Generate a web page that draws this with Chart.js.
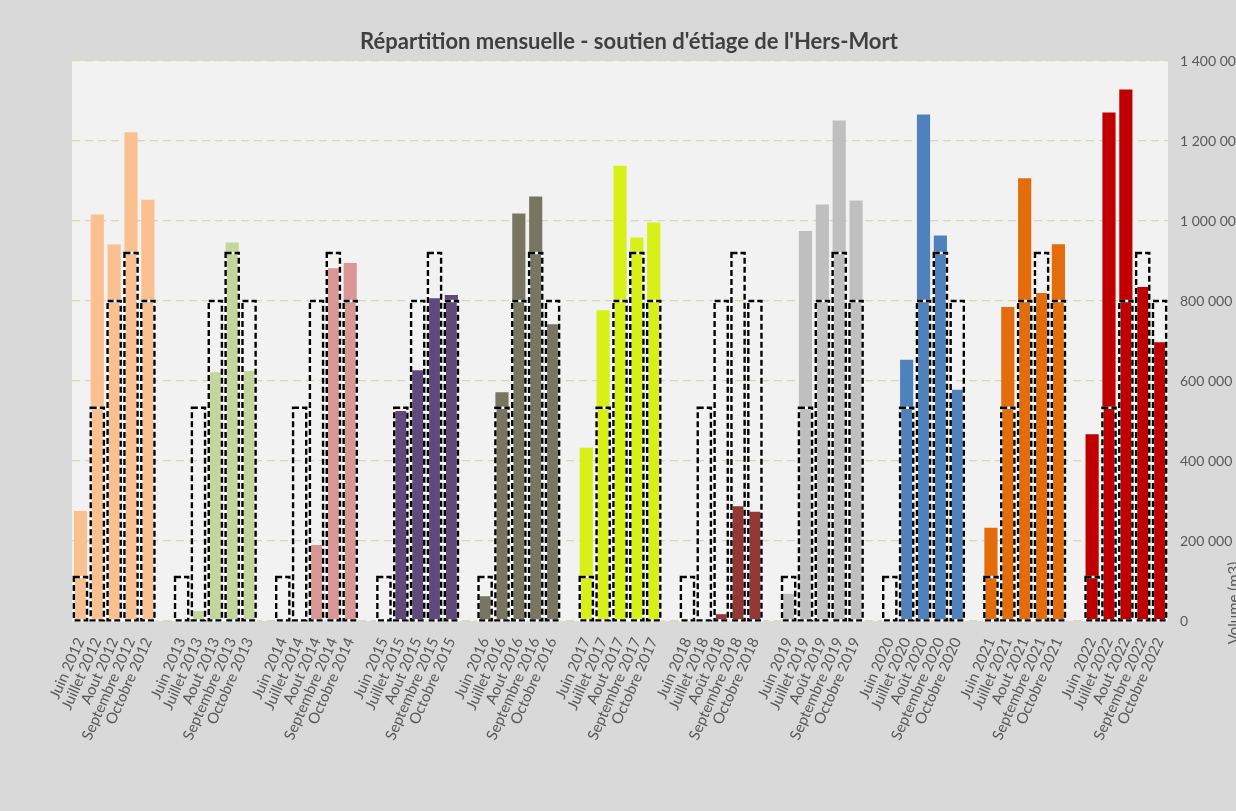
<!DOCTYPE html>
<html lang="fr">
<head>
<meta charset="UTF-8">
<title>Répartition mensuelle - soutien d'étiage de l'Hers-Mort</title>
<script src="https://cdn.jsdelivr.net/npm/chart.js"></script>
<style>
  html, body { margin: 0; padding: 0; background: #d9d9d9; overflow: hidden; }
</style>
</head>
<body>
<canvas id="chart" width="1236" height="811"></canvas>
<script>
// mois de la période d'étiage, années
const mois = ['Juin', 'Juillet', 'Aout', 'Septembre', 'Octobre'];
const annees = [2012, 2013, 2014, 2015, 2016, 2017, 2018, 2019, 2020, 2021, 2022];
const anneesAvecAccent = [2018, 2019, 2020]; // libellé "Août" au lieu de "Aout"

// volumes mensuels (m3), juin -> octobre
const v2012 = [275000, 1016000, 941000, 1222000, 1053000];
const v2013 = [0, 25000, 622000, 946000, 625000];
const v2014 = [0, 0, 190000, 882000, 895000];
const v2015 = [0, 525000, 627000, 807000, 815000];
const v2016 = [62000, 572000, 1019000, 1061000, 742000];
const v2017 = [433000, 777000, 1138000, 959000, 996000];
const v2018 = [0, 0, 17000, 287000, 273000];
const v2019 = [68000, 975000, 1041000, 1251000, 1051000];
const v2020 = [0, 653000, 1266000, 964000, 578000];
const v2021 = [233000, 785000, 1107000, 820000, 942000];
const v2022 = [467000, 1271000, 1329000, 835000, 697000];
const volumes = [v2012, v2013, v2014, v2015, v2016, v2017, v2018, v2019, v2020, v2021, v2022];

// objectif mensuel (barres en pointillés)
const objectif = [110000, 533000, 800000, 920000, 800000];

const couleurs = ['#fac090', '#c3d69b', '#d99694', '#604a7b', '#787661', '#d7f018',
                  '#953735', '#bfbfbf', '#4f81bd', '#e46c0a', '#c00000'];

const yTicks = [0, 200000, 400000, 600000, 800000, 1000000, 1200000, 1400000];

const titre = "Répartition mensuelle - soutien d'étiage de l'Hers-Mort";

// construction des catégories : 5 mois par année + une case vide entre années
const labels = [], dataVol = [], dataObj = [], fond = [];
annees.forEach((an, i) => {
    if (i > 0) { labels.push(''); dataVol.push(null); dataObj.push(null); fond.push('rgba(0,0,0,0)'); }
    mois.forEach((m, j) => {
        const nom = (m === 'Aout' && anneesAvecAccent.includes(an)) ? 'Août' : m;
        labels.push(nom + ' ' + an);
        dataVol.push(volumes[i][j]);
        dataObj.push(objectif[j]);
        fond.push(couleurs[i]);
    });
});

const fondPlugin = {
    id: 'fond',
    beforeDraw(chart) {
        const { ctx, chartArea: a } = chart;
        ctx.save();
        ctx.fillStyle = '#d9d9d9';
        ctx.fillRect(0, 0, chart.width, chart.height);
        ctx.fillStyle = '#f2f2f2';
        ctx.fillRect(a.left, a.top, a.right - a.left, a.bottom - a.top);
        ctx.restore();
    }
};

// contours pointillés des objectifs, à partir des barres du dataset 1
const pointillesPlugin = {
    id: 'pointilles',
    afterDatasetsDraw(chart) {
        const ctx = chart.ctx;
        const meta = chart.getDatasetMeta(1);
        ctx.save();
        meta.data.forEach((bar, k) => {
            if (dataObj[k] == null) return;
            const p = bar.getProps(['x', 'y', 'base', 'width'], true);
            const x = p.x - p.width / 2, w = p.width, y = p.y, h = p.base - p.y;
            ctx.setLineDash([]);
            ctx.lineWidth = 2.4;
            ctx.strokeStyle = '#ffffff';
            ctx.strokeRect(x, y, w, h);
            ctx.setLineDash([6, 3]);
            ctx.strokeStyle = '#000000';
            ctx.strokeRect(x, y, w, h);
        });
        ctx.restore();
    }
};

// titre général et titre de l'axe secondaire
const textesPlugin = {
    id: 'textes',
    afterDraw(chart) {
        const ctx = chart.ctx;
        ctx.save();
        ctx.font = 'bold 22px Lato';
        ctx.fillStyle = '#404040';
        ctx.textAlign = 'center';
        ctx.textBaseline = 'middle';
        ctx.fillText(titre, 629, 42);

        ctx.translate(1234, 603);
        ctx.rotate(-Math.PI / 2);
        ctx.font = '15px Lato';
        ctx.fillStyle = '#595959';
        ctx.fillText('Volume (m3)', 0, 0);
        ctx.restore();
    }
};

new Chart(document.getElementById('chart'), {
    type: 'bar',
    data: {
        labels: labels,
        datasets: [
            {
                label: 'Volume',
                data: dataVol,
                backgroundColor: fond,
                borderWidth: 0,
                grouped: false,
                barPercentage: 0.78,
                categoryPercentage: 1
            },
            {
                label: 'Objectif',
                data: dataObj,
                backgroundColor: 'rgba(0,0,0,0)',
                borderWidth: 0,
                grouped: false,
                barPercentage: 0.78,
                categoryPercentage: 1
            }
        ]
    },
    options: {
        responsive: false,
        animation: false,
        layout: { padding: { left: 72, right: 0, top: 61, bottom: 0 } },
        plugins: {
            legend: { display: false },
            tooltip: { enabled: false },
            title: { display: false }
        },
        scales: {
            x: {
                grid: { display: false },
                border: { display: false },
                ticks: {
                    autoSkip: false,
                    minRotation: 66,
                    maxRotation: 66,
                    padding: 6,
                    color: '#595959',
                    font: { family: 'Lato', size: 15 }
                },
                afterFit(s) { s.height = 190; }
            },
            y: {
                position: 'right',
                min: 0,
                max: 1400000,
                afterBuildTicks(s) { s.ticks = yTicks.map(v => ({ value: v })); },
                grid: { color: '#d6d8b9', lineWidth: 1.3, drawTicks: false },
                border: { display: false, dash: [8, 5] },
                ticks: {
                    padding: 12,
                    color: '#595959',
                    font: { family: 'Lato', size: 14 },
                    callback: v => String(v).replace(/\B(?=(\d{3})+(?!\d))/g, ' ')
                },
                afterFit(s) { s.width = 68; }
            }
        }
    },
    plugins: [fondPlugin, pointillesPlugin, textesPlugin]
});
</script>
</body>
</html>
